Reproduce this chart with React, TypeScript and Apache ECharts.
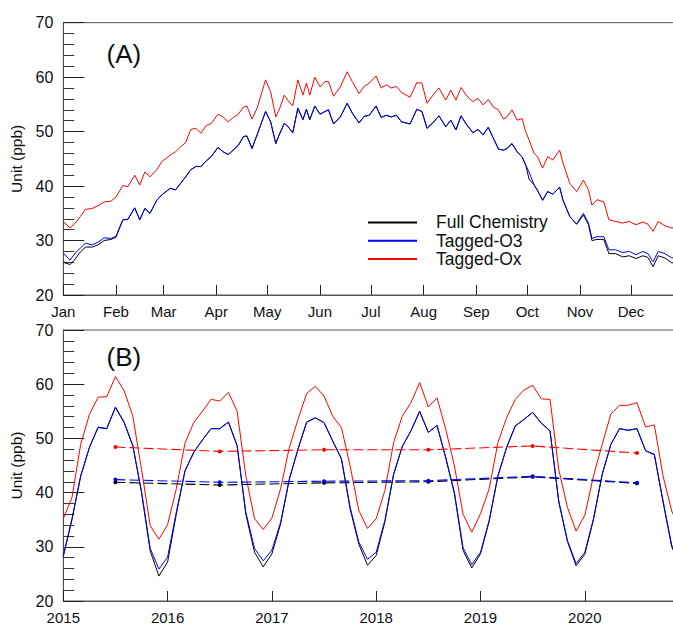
import React, { useEffect, useRef } from "react";
import * as echarts from "echarts";

const FONT = '"Liberation Sans", Arial, Helvetica, sans-serif';

// ---------- Panel A : daily climatology ----------
const MONTHS = ["Jan", "Feb", "Mar", "Apr", "May", "Jun", "Jul", "Aug", "Sep", "Oct", "Nov", "Dec"];
const MONTH_START_DAYS = [0, 31, 59, 90, 120, 151, 181, 212, 243, 273, 304, 334];

const dailyDays = [
  0, 4, 7, 10, 13, 17, 21, 24, 28, 31,
  35, 38, 42, 45, 48, 51, 55, 58, 63, 66,
  69, 72, 75, 78, 81, 84, 87, 91, 94, 97,
  100, 103, 106, 108, 111, 114, 119, 122, 125, 127,
  130, 132, 135, 138, 141, 143, 145, 148, 151, 154,
  156, 159, 163, 167, 170, 174, 177, 180, 184, 187,
  190, 193, 196, 199, 204, 208, 211, 214, 218, 221,
  225, 228, 231, 234, 237, 241, 244, 247, 250, 253,
  256, 259, 261, 264, 267, 270, 272, 274, 277, 279,
  282, 285, 288, 292, 294, 298, 302, 304, 306, 309,
  311, 314, 318, 321, 325, 329, 333, 337, 341, 344,
  347, 350, 354, 358, 364,
];

const dailyOx = [
  33.5, 32.3, 33.2, 34.4, 35.7, 35.9, 36.5, 37.1, 37.2, 38.0,
  40.1, 39.9, 42.0, 40.2, 42.6, 41.7, 43.0, 44.5, 45.7, 46.3,
  47.2, 48.0, 50.4, 50.6, 49.7, 51.1, 51.5, 53.2, 52.7, 51.8,
  52.6, 53.2, 54.5, 54.7, 52.3, 54.3, 59.5, 57.3, 52.7, 54.0,
  56.7, 55.8, 54.7, 59.5, 56.7, 58.9, 56.7, 60.0, 58.2, 59.2,
  59.2, 56.5, 58.2, 61.0, 59.2, 57.0, 58.3, 58.9, 60.2, 58.0,
  58.6, 58.0, 58.3, 57.2, 56.3, 59.0, 58.9, 55.2, 56.9, 58.0,
  55.8, 57.6, 55.8, 58.1, 56.7, 55.5, 56.1, 54.9, 55.9, 54.5,
  54.0, 52.3, 52.7, 54.0, 52.1, 52.4, 50.0, 48.5, 46.0, 45.4,
  43.3, 45.4, 44.8, 46.6, 44.2, 40.5, 39.0, 40.0, 41.1, 39.3,
  36.5, 37.5, 37.1, 33.8, 33.5, 33.2, 33.5, 32.9, 33.4, 33.0,
  31.7, 33.5, 32.7, 32.3, 32.6,
];

const dailyO3 = [
  27.7, 26.4, 27.7, 28.6, 29.5, 29.2, 29.8, 30.5, 30.4, 30.8,
  33.8, 33.9, 36.0, 33.8, 35.9, 35.0, 37.4, 38.4, 39.6, 39.3,
  40.5, 41.7, 43.0, 43.6, 43.6, 44.6, 45.4, 47.1, 46.3, 45.8,
  46.6, 47.5, 49.1, 49.2, 46.9, 49.4, 53.7, 51.8, 47.8, 49.4,
  51.5, 51.0, 49.8, 54.3, 52.2, 54.1, 52.2, 54.7, 53.2, 53.7,
  54.0, 51.4, 52.7, 55.2, 53.4, 51.6, 52.8, 53.0, 54.7, 52.6,
  53.0, 52.7, 53.0, 51.8, 51.4, 54.1, 53.7, 50.6, 51.8, 52.9,
  50.9, 52.1, 50.3, 52.9, 51.4, 49.8, 50.4, 49.4, 50.8, 48.8,
  46.8, 46.6, 46.9, 47.8, 46.3, 45.3, 43.9, 42.6, 40.2, 39.2,
  37.4, 39.0, 38.5, 39.8, 37.4, 34.4, 33.0, 34.1, 35.0, 33.2,
  30.4, 30.7, 30.7, 28.3, 28.3, 27.8, 28.0, 27.4, 28.0, 27.6,
  26.1, 28.0, 27.6, 26.8, 27.0,
];

const dailyFull = [
  26.0, 25.6, 26.6, 27.9, 28.8, 28.8, 29.3, 30.0, 30.2, 30.6,
  33.8, 33.9, 36.0, 33.8, 35.9, 35.0, 37.4, 38.4, 39.6, 39.3,
  40.5, 41.7, 43.0, 43.6, 43.6, 44.6, 45.4, 47.1, 46.3, 45.8,
  46.6, 47.5, 49.1, 49.2, 46.9, 49.4, 53.7, 51.8, 47.8, 49.4,
  51.5, 51.0, 49.8, 54.3, 52.2, 54.1, 52.2, 54.7, 53.2, 53.7,
  54.0, 51.4, 52.7, 55.2, 53.4, 51.6, 52.8, 53.0, 54.7, 52.6,
  53.0, 52.7, 53.0, 51.8, 51.4, 54.1, 53.7, 50.6, 51.8, 52.9,
  50.9, 52.1, 50.3, 52.9, 51.4, 49.8, 50.4, 49.4, 50.8, 48.8,
  46.8, 46.6, 46.9, 47.8, 46.3, 45.3, 43.9, 41.3, 40.2, 39.2,
  37.4, 39.0, 38.5, 39.8, 37.4, 34.4, 33.0, 33.8, 34.7, 32.9,
  30.0, 30.2, 30.2, 27.6, 27.6, 27.0, 27.2, 26.7, 27.2, 26.9,
  25.2, 27.2, 26.8, 25.9, 26.1,
];

// ---------- Panel B : monthly means 2015-2020 ----------
const YEAR_LABELS = ["2015", "2016", "2017", "2018", "2019", "2020"];

const monthlyOx = [
  35.2, 39.1, 48.9, 54.4, 57.6, 57.7, 61.4, 58.8, 54.1, 44.3, 33.9, 31.4,
  34.1, 40.7, 49.1, 52.9, 55.0, 57.2, 56.9, 58.5, 55.0, 43.1, 35.2, 33.2,
  35.3, 40.7, 48.3, 53.5, 58.3, 59.6, 57.8, 54.1, 52.0, 44.9, 36.7, 33.4,
  35.2, 40.4, 49.2, 54.1, 56.6, 60.3, 55.8, 57.5, 51.7, 44.9, 36.0, 32.7,
  36.1, 40.7, 49.2, 53.8, 57.2, 58.9, 59.8, 57.3, 57.2, 44.3, 37.3, 32.9,
  35.8, 43.1, 48.9, 54.5, 56.1, 56.1, 56.6, 52.1, 52.5, 43.1, 36.6, 33.0,
];

const monthlyO3 = [
  28.4, 35.2, 43.1, 48.3, 52.1, 51.8, 55.8, 53.0, 48.7, 40.2, 29.7, 25.9,
  28.1, 36.4, 44.0, 47.4, 49.7, 51.8, 51.8, 53.0, 48.7, 36.4, 29.7, 27.4,
  29.4, 34.5, 42.5, 48.0, 53.0, 53.8, 52.9, 49.5, 46.3, 37.3, 30.9, 27.7,
  29.0, 34.9, 43.4, 48.5, 51.4, 55.0, 51.1, 52.4, 46.5, 40.0, 29.8, 26.7,
  29.0, 34.9, 43.1, 48.3, 52.3, 53.5, 54.8, 52.8, 51.4, 38.5, 31.2, 26.9,
  29.0, 35.2, 43.4, 48.9, 51.8, 51.5, 51.8, 47.7, 47.1, 38.5, 30.3, 27.0,
];

const monthlyFull = [
  28.2, 35.0, 43.0, 48.3, 52.0, 51.8, 55.7, 52.9, 48.6, 40.0, 29.2, 24.6,
  27.2, 36.0, 44.0, 47.4, 49.7, 51.8, 51.8, 53.0, 48.6, 36.0, 29.0, 26.3,
  28.7, 34.2, 42.4, 48.0, 53.0, 53.8, 52.9, 49.5, 46.2, 37.0, 30.5, 26.6,
  28.4, 34.6, 43.3, 48.5, 51.4, 55.0, 51.1, 52.4, 46.4, 39.8, 29.3, 26.1,
  28.7, 34.7, 43.0, 48.3, 52.3, 53.5, 54.8, 52.8, 51.4, 38.3, 31.0, 26.5,
  28.6, 35.0, 43.3, 48.9, 51.8, 51.5, 51.8, 47.7, 47.0, 38.3, 30.0, 26.5,
];

// annual means, placed at mid-year (month index of July)
const annualIdx = [6, 18, 30, 42, 54, 66];
const annualOx = [48.4, 47.6, 47.9, 47.9, 48.6, 47.3];
const annualO3 = [42.4, 41.9, 42.1, 42.2, 43.0, 41.8];
const annualFull = [41.9, 41.4, 41.8, 42.0, 42.9, 41.7];

const C_FULL = "#000000";
const C_O3 = "#0000ff";
const C_OX = "#ff0000";

function buildOption() {
  const dayCats = Array.from({ length: 366 }, (_, i) => String(i));
  const monthCats = Array.from({ length: 73 }, (_, i) => String(i));
  const pairs = (xs: number[], ys: number[]) => xs.map((x, i) => [x, ys[i]]);

  const yAxisBase = (gridIndex: number) => ({
    type: "value",
    gridIndex,
    min: 20,
    max: 70,
    interval: 10,
    name: "Unit (ppb)",
    nameLocation: "middle",
    nameGap: 36,
    nameTextStyle: { fontSize: 15.5, color: "#111", fontFamily: FONT },
    axisLine: { show: true, lineStyle: { color: "#555", width: 1 } },
    axisTick: { show: true, inside: true, length: 21, lineStyle: { color: "#222", width: 1 } },
    minorTick: { show: true, splitNumber: 5, length: 11, lineStyle: { color: "#333", width: 1 } },
    axisLabel: { fontSize: 16, color: "#111", margin: 10, fontFamily: FONT },
    splitLine: { show: false },
    minorSplitLine: { show: false },
  });

  const isMonthStart = (i: number) => MONTH_START_DAYS.indexOf(i) >= 0;
  const isYearStart = (i: number) => i % 12 === 0 && i < 72;

  const lineSeries = (name: string, color: string, x: number, data: any[], z: number) => ({
    type: "line",
    name,
    xAxisIndex: x,
    yAxisIndex: x,
    data,
    showSymbol: false,
    symbol: "none",
    z,
    itemStyle: { color },
    lineStyle: { color, width: 1 },
  });

  const meanSeries = (name: string, color: string, data: any[], z: number) => ({
    type: "line",
    name,
    xAxisIndex: 1,
    yAxisIndex: 1,
    data,
    symbol: "circle",
    symbolSize: 4,
    z,
    itemStyle: { color },
    lineStyle: { color, width: 1.1, type: [10, 4] },
  });

  return {
    animation: false,
    backgroundColor: "#ffffff",
    textStyle: { fontFamily: FONT },
    grid: [
      { left: 63.3, top: 22.7, width: 620.4, height: 272.3, show: true, borderColor: "#555", borderWidth: 1 },
      { left: 63.3, top: 330, width: 625.8, height: 272.7, show: true, borderColor: "#555", borderWidth: 1 },
    ],
    xAxis: [
      {
        type: "category",
        gridIndex: 0,
        data: dayCats,
        boundaryGap: false,
        axisLine: { show: true, lineStyle: { color: "#555", width: 1 } },
        axisTick: { show: true, inside: true, length: 10, interval: (i: number) => isMonthStart(i), lineStyle: { color: "#222" } },
        axisLabel: {
          interval: (i: number) => isMonthStart(i),
          formatter: (_v: string, i: number) => MONTHS[MONTH_START_DAYS.indexOf(i)] ?? "",
          fontSize: 15,
          color: "#111",
          margin: 9,
          fontFamily: FONT,
        },
        splitLine: { show: false },
      },
      {
        type: "category",
        gridIndex: 1,
        data: monthCats,
        boundaryGap: false,
        axisLine: { show: true, lineStyle: { color: "#555", width: 1 } },
        axisTick: { show: true, inside: true, length: 10, interval: (i: number) => isYearStart(i), lineStyle: { color: "#222" } },
        axisLabel: {
          interval: (i: number) => isYearStart(i),
          formatter: (_v: string, i: number) => YEAR_LABELS[i / 12] ?? "",
          fontSize: 15,
          color: "#111",
          margin: 9,
          fontFamily: FONT,
        },
        splitLine: { show: false },
      },
    ],
    yAxis: [yAxisBase(0), yAxisBase(1)],
    legend: {
      data: ["Full Chemistry", "Tagged-O3", "Tagged-Ox"],
      orient: "vertical",
      left: 368,
      top: 213.3,
      padding: 0,
      itemGap: 0,
      itemWidth: 49,
      itemHeight: 2,
      icon: "rect",
      selectedMode: false,
      textStyle: { fontSize: 17.5, lineHeight: 18.3, color: "#111", fontFamily: FONT, padding: [0, 0, 0, 14] },
    },
    graphic: [
      { type: "text", x: 106.5, y: 54, style: { text: "(A)", fontSize: 26, fontFamily: FONT, fill: "#111", verticalAlign: "middle" } },
      { type: "text", x: 106.5, y: 357, style: { text: "(B)", fontSize: 26, fontFamily: FONT, fill: "#111", verticalAlign: "middle" } },
    ],
    series: [
      lineSeries("Full Chemistry", C_FULL, 0, pairs(dailyDays, dailyFull), 2),
      lineSeries("Tagged-O3", C_O3, 0, pairs(dailyDays, dailyO3), 3),
      lineSeries("Tagged-Ox", C_OX, 0, pairs(dailyDays, dailyOx), 4),
      lineSeries("Full Chemistry", C_FULL, 1, monthlyFull, 2),
      lineSeries("Tagged-O3", C_O3, 1, monthlyO3, 3),
      lineSeries("Tagged-Ox", C_OX, 1, monthlyOx, 4),
      meanSeries("Full Chemistry annual mean", C_FULL, pairs(annualIdx, annualFull), 5),
      meanSeries("Tagged-O3 annual mean", C_O3, pairs(annualIdx, annualO3), 6),
      meanSeries("Tagged-Ox annual mean", C_OX, pairs(annualIdx, annualOx), 7),
    ],
  };
}

export default function App() {
  const ref = useRef<HTMLDivElement>(null);
  useEffect(() => {
    if (!ref.current) return;
    const chart = echarts.init(ref.current, null, { renderer: "svg" });
    chart.setOption(buildOption() as any);
    return () => chart.dispose();
  }, []);
  return (
    <div
      style={{
        position: "absolute",
        left: 0,
        top: 0,
        width: 673,
        height: 625,
        overflow: "hidden",
        background: "#fff",
      }}
    >
      <div ref={ref} style={{ width: 700, height: 625 }} />
    </div>
  );
}
